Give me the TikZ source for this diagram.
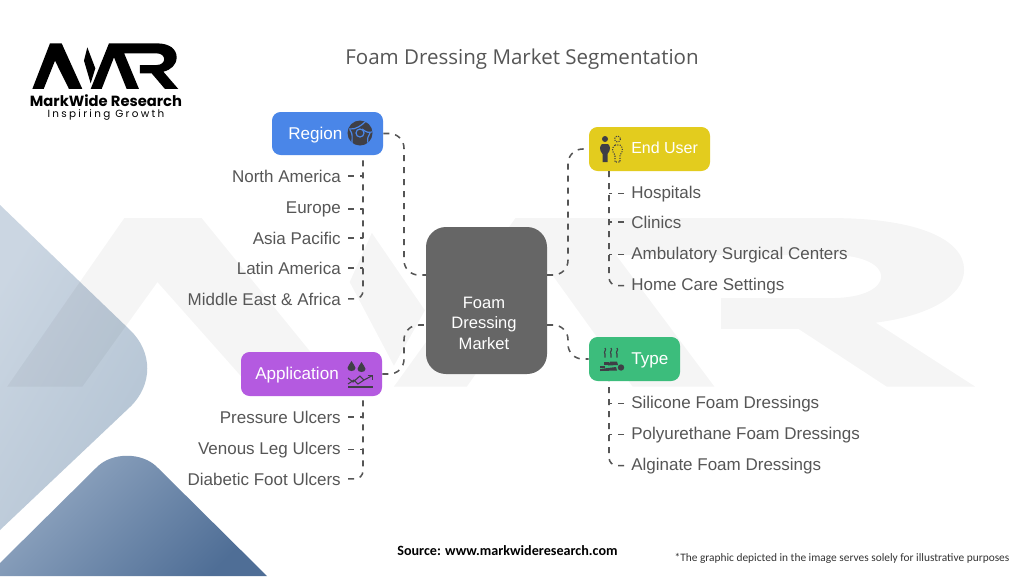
\documentclass[tikz,border=0pt]{standalone}
\usepackage{fontspec}
\setmainfont{Liberation Sans}
\newfontfamily\titlefont{Open Sans}
\newfontfamily\logofont{Poppins}
\newfontfamily\logoinsp[LetterSpace=22]{Poppins}
\newfontfamily\footfont{Carlito}
\usetikzlibrary{calc}
\definecolor{txt}{HTML}{565656}
\definecolor{conn}{HTML}{555555}
\definecolor{ico}{HTML}{3F3F46}
\definecolor{cregion}{HTML}{4A86E8}
\definecolor{capp}{HTML}{B45AE0}
\definecolor{cuser}{HTML}{E3CC1E}
\definecolor{ctype}{HTML}{3CBD7C}
\definecolor{ccenter}{HTML}{666666}
\definecolor{lighta}{HTML}{CBD6E2}
\definecolor{lightb}{HTML}{B3C3D3}
\definecolor{darka}{HTML}{93A8C2}
\definecolor{darkb}{HTML}{4F6E96}
\newcommand{\mwrshape}{
 (97,207)--(131,207)--(165,122)--(207,207)--(247,207)--(185,70)--(150,70)--cycle
 (262,82)--(286,145)--(272,190)--(252,122)--cycle
 (272,207)--(327,70)--(360,70)--(417,207)--(380,207)--(342,112)--(305,207)--cycle
 (350,70)--(470,70) .. controls (510,70) and (530,88) .. (530,112) .. controls (530,135) and (512,150) .. (490,155)--(535,207)--(495,207)--(455,160)--(420,160)--(420,135)--(470,135) .. controls (500,135) and (500,100) .. (470,100)--(362,100)--cycle
}
\tikzset{
 x=.75pt,y=-.75pt,
 box/.style={rounded corners=6.5pt,draw=none,inner sep=0pt},
 boxlabel/.style={text=white,font=\fontsize{12.8}{15}\selectfont,inner sep=0pt,anchor=base west},
 item/.style={text=txt,font=\fontsize{12.75}{15}\selectfont,inner ysep=0pt,inner xsep=5.25pt},
 itemleft/.style={item,anchor=base east},
 itemright/.style={item,anchor=base west},
 link/.style={draw=conn,line width=1.15pt,dash pattern=on 4.5pt off 4.5pt},
 icon/.style={fill=ico,draw=none},
 iconline/.style={draw=ico,line width=.8pt,fill=none},
}
\begin{document}
\begin{tikzpicture}
\path[use as bounding box,fill=white] (0,0) rectangle (1024,576);
% background shapes
\begin{scope}
\clip (0,0) rectangle (1024,576);
\shade[left color=lighta,right color=lightb,shading angle=60] (0,205)--(130,330) .. controls (153,352) and (153,385) .. (130,407)--(0,530)--cycle;
\shade[left color=darka,right color=darkb,shading angle=45] (0,563)--(97,467) .. controls (112,452) and (142,452) .. (157,467)--(267,576)--(0,576)--cycle;
% watermark
\fill[black,opacity=.04,cm={2.21,0,0,1.23,(-155.4pt,-99pt)}] \mwrshape;
\end{scope}
% logo
\fill[black,cm={.3333,0,0,.3333,(0pt,-15pt)}] \mwrshape;
\node[inner sep=0pt,font=\logofont\bfseries\fontsize{11.05}{12}\selectfont] (logoname) at (106,101) {MarkWide Research};
\node[inner sep=0pt,font=\logoinsp\fontsize{7.8}{9}\selectfont] (logotag) at (106,115) {Inspiring Growth};
% title
\node[inner sep=0pt,text=txt,font=\titlefont\fontsize{15.4}{18}\selectfont] (title) at (522,59.5) {Foam Dressing Market Segmentation};
% boxes
\node[box,fill=ccenter,rounded corners=15pt,minimum width=90.75pt,minimum height=110.25pt] (center) at (486.5,300.5) {};
\node[text=white,inner sep=0pt,align=center,font=\fontsize{12.4}{15.4}\selectfont] (centerlabel) at (484,323) {Foam\\Dressing\\Market};
\node[box,fill=cregion,minimum width=83.25pt,minimum height=32.25pt] (region) at (327.5,133.5) {};
\node[boxlabel] (regionlabel) at (288,139) {Region};
\node[box,fill=capp,minimum width=105.75pt,minimum height=33pt] (application) at (311.5,374) {};
\node[boxlabel] (applicationlabel) at (255,379.5) {Application};
\node[box,fill=cuser,minimum width=90.75pt,minimum height=33pt] (enduser) at (649.5,149) {};
\node[boxlabel,font=\fontsize{12}{15}\selectfont] (enduserlabel) at (631,153.7) {End User};
\node[box,fill=ctype,minimum width=68.25pt,minimum height=33pt] (type) at (634.5,359) {};
\node[boxlabel] (typelabel) at (631,364) {Type};
% left items
\node[itemleft] (na) at (348,182) {North America};
\node[itemleft] (eu) at (348,213) {Europe};
\node[itemleft] (ap) at (348,244) {Asia Pacific};
\node[itemleft] (la) at (348,274) {Latin America};
\node[itemleft] (me) at (348,305) {Middle East \& Africa};
\node[itemleft] (pu) at (348,423) {Pressure Ulcers};
\node[itemleft] (vl) at (348,454) {Venous Leg Ulcers};
\node[itemleft] (df) at (348,485) {Diabetic Foot Ulcers};
% right items
\node[itemright] (ho) at (624,198) {Hospitals};
\node[itemright] (cl) at (624,228) {Clinics};
\node[itemright] (am) at (624,259) {Ambulatory Surgical Centers};
\node[itemright] (hc) at (624,290) {Home Care Settings};
\node[itemright] (si) at (624,408) {Silicone Foam Dressings};
\node[itemright] (po) at (624,439) {Polyurethane Foam Dressings};
\node[itemright] (al) at (624,470) {Alginate Foam Dressings};
% anchors
\coordinate (tregion) at (363,155);
\coordinate (tapp) at (363,396);
\coordinate (tuser) at (609,171);
\coordinate (ttype) at (609,381);
\coordinate (cnw) at (426,275);
\coordinate (csw) at (426,325);
\coordinate (cne) at (547,275);
\coordinate (cse) at (547,325);
\coordinate (hleft) at (404,300);
\coordinate (hright) at (568,300);
% hub connectors
\draw[link,rounded corners=11pt] (region.east) -- (region.east -| hleft) -- (cnw -| hleft) -- (cnw);
\draw[link,rounded corners=11pt] (application.east) -- (application.east -| hleft) -- (csw -| hleft) -- (csw);
\draw[link,rounded corners=11pt] (cne) -- (cne -| hright) -- (enduser.west -| hright) -- (enduser.west);
\draw[link,rounded corners=11pt] (cse) -- (cse -| hright) -- (type.west -| hright) -- (type.west);
% child connectors: trunk to last child, ticks to trunk
\foreach \c in {na,eu,ap,la} \draw[link] (\c.east) -- (\c.east -| tregion);
\draw[link,rounded corners=6pt] (me.east) -| (tregion);
\foreach \c in {pu,vl} \draw[link] (\c.east) -- (\c.east -| tapp);
\draw[link,rounded corners=6pt] (df.east) -| (tapp);
\foreach \c in {ho,cl,am} \draw[link] (\c.west) -- (\c.west -| tuser);
\draw[link,rounded corners=6pt] (hc.west) -| (tuser);
\foreach \c in {si,po} \draw[link] (\c.west) -- (\c.west -| ttype);
\draw[link,rounded corners=6pt] (al.west) -| (ttype);
% region icon
\fill[ico] (360,133) circle (12.5);
\draw[cregion,line width=.9pt] (349,129) .. controls (356,130) and (362,125) .. (366,121);
\draw[cregion,line width=.9pt] (352,143) .. controls (352,137) and (353,134) .. (350,130);
\draw[cregion,line width=.9pt] (362,129) .. controls (367,133) and (370,133) .. (372,132);
\draw[cregion,line width=.9pt] (368,143) .. controls (367,139) and (368,136) .. (370,133);
\draw[cregion,line width=.9pt] (360,133) circle (4);
\fill[ico] (360,133) circle (2.6);
% application icon
\fill[icon] (351.5,361) .. controls (353,364) and (355.5,366) .. (355.5,368) .. controls (355.5,372) and (347.5,372) .. (347.5,368) .. controls (347.5,366) and (350,364) .. (351.5,361) -- cycle;
\fill[icon] (361.5,362) .. controls (363,365) and (365.5,367) .. (365.5,369) .. controls (365.5,373) and (357.5,373) .. (357.5,369) .. controls (357.5,367) and (360,365) .. (361.5,362) -- cycle;
\draw[iconline] (348,378) -- (353,382) -- (360,376) -- (364,380) -- (372.5,375.5);
\draw[iconline] (367.5,375.5) -- (372.5,375.5) -- (372.5,380);
\draw[iconline] (348,384) -- (354,380) -- (358,384) -- (364,380);
\draw[draw=ico,line width=.9pt] (348,387) -- (372.5,387);
% end user icon
\fill[icon] (605,139) circle (3);
\fill[icon] (602,144) -- (608,144) .. controls (610.5,146) and (611,150) .. (607.5,154) -- (607.5,162) -- (602.5,162) -- (602.5,154) .. controls (599,150) and (599.5,146) .. (602,144) -- cycle;
\draw[iconline,densely dotted] (617.5,139) circle (3);
\draw[iconline,densely dotted] (615,145) -- (620,145) .. controls (623.5,148) and (623,152) .. (620,155) -- (620,162) -- (615,162) -- (615,155) .. controls (612,152) and (611.5,148) .. (615,145) -- cycle;
% type icon
\foreach \sx in {605,611,617} \draw[draw=ico,line width=.85pt] (\sx,348) .. controls (\sx+2,350) and (\sx-2,352) .. (\sx,354) .. controls (\sx+1,355) and (\sx-1,356) .. (\sx,357.5);
\fill[icon] (604,362) rectangle (609,364.5);
\fill[icon] (610,361.5) -- (617,361.5) -- (618,365) -- (608,365.5) -- cycle;
\fill[icon] (600,366) rectangle (605,368);
\fill[icon] (600,369) -- (616,367) -- (617,370.5) -- (600,371) -- cycle;
\fill[icon] (621,367.5) circle (3.2);
% footer
\node[inner sep=0pt,font=\footfont\bfseries\fontsize{10.6}{13}\selectfont] (source) at (507.5,551) {Source: www.markwideresearch.com};
\node[inner sep=0pt,text=black!80,font=\footfont\fontsize{8.54}{11}\selectfont] (note) at (842,558.5) {*The graphic depicted in the image serves solely for illustrative purposes};
\end{tikzpicture}
\end{document}
